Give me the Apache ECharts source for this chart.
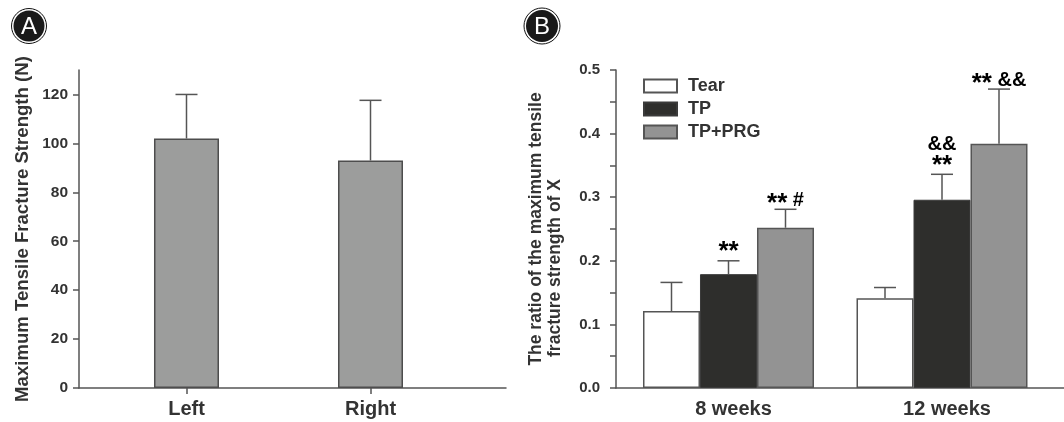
<!DOCTYPE html>
<html><head><meta charset="utf-8">
<script src="https://cdn.jsdelivr.net/npm/echarts@6/dist/echarts.min.js"></script>
<style>html,body{margin:0;padding:0;background:#fff}#c{width:1064px;height:422px}</style>
</head><body><div id="c"></div>
<script>
// ---------- Panel A data ----------
const categoriesA = ['Left', 'Right'];
const meanA = [102, 93];
const errA = [18, 24.6];
const yTicksA = [0, 20, 40, 60, 80, 100, 120];

// ---------- Panel B data ----------
const categoriesB = ['8 weeks', '12 weeks'];
const seriesNamesB = ['Tear', 'TP', 'TP+PRG'];
const tearMean = [0.121, 0.141];
const tearErr = [0.045, 0.017];
const tpMean = [0.179, 0.296];
const tpErr = [0.021, 0.040];
const prgMean = [0.252, 0.384];
const prgErr = [0.029, 0.086];
const tearMarks = ['', ''];
const tpMarks = ['**', '&&\n**'];
const prgMarks = ['** #', '** &&'];
const yLabelsB = [0, 0.1, 0.2, 0.3, 0.4, 0.5];
const yTicksB = [0, 0.05, 0.1, 0.15, 0.2, 0.25, 0.3, 0.35, 0.4, 0.45, 0.5];

// ---------- styles ----------
const FONT = '"Liberation Sans", Arial, Helvetica, sans-serif';
const TXT = '#333';
const AX = '#555';
const CAP = 22;
const BW_A = 65;
const BW_B = 57;

function toRich(s) {
  return s.split('\n').map(line => {
    const mixed = /\*/.test(line) && /[^*\s]/.test(line.replace(/\*/g, ''));
    return line.replace(/(\*+)|([^*]+)/g, (m, st, other) =>
      st ? '{s|' + st + '}' : '{' + (mixed ? 'm' : 'n') + '|' + other + '}');
  }).join('\n');
}
const markRich = {
  s: { fontFamily: FONT, fontWeight: 'bold', fontSize: 26, color: TXT, lineHeight: 21 },
  n: { fontFamily: FONT, fontWeight: 'bold', fontSize: 20, color: TXT, lineHeight: 21 },
  m: { fontFamily: FONT, fontWeight: 'bold', fontSize: 20, color: TXT, lineHeight: 21, padding: [0, 0, 7, 0] }
};

function errSeries(gi, means, errs, marks, offset) {
  return {
    type: 'custom', xAxisIndex: gi, yAxisIndex: gi, z: 5, silent: true,
    data: means.map((m, i) => [i + 1, m, errs[i]]),
    encode: { x: 0, y: 1 },
    renderItem: function (params, api) {
      const x = api.value(0), m = api.value(1), e = api.value(2);
      const mark = marks[params.dataIndex];
      const p0 = api.coord([x, m]);
      const p1 = api.coord([x, m + e]);
      const cx = p0[0] + offset;
      const ls = { stroke: AX, lineWidth: 1.5 };
      const children = [
        { type: 'line', shape: { x1: cx, y1: p0[1], x2: cx, y2: p1[1] }, style: ls },
        { type: 'line', shape: { x1: cx - CAP / 2, y1: p1[1], x2: cx + CAP / 2, y2: p1[1] }, style: ls }
      ];
      if (mark) {
        const mixed = /\*/.test(mark) && /[^*\s]/.test(mark.replace(/\*/g, '')) && mark.indexOf('\n') < 0;
        children.push({
          type: 'text', x: cx, y: p1[1] + (mixed ? 5.5 : 2),
          style: { text: toRich(mark), rich: markRich, align: 'center', verticalAlign: 'bottom' }
        });
      }
      return { type: 'group', children: children };
    }
  };
}

const tickLabelStyle = { fontFamily: FONT, fontWeight: 'bold', color: TXT };
const axisLineStyle = { color: AX, width: 1.5 };

const option = {
  animation: false,
  backgroundColor: '#fff',
  grid: [
    { left: 79, right: 558, top: 70, bottom: 34 },
    { left: 616, right: 0, top: 70, bottom: 34 }
  ],
  legend: {
    data: seriesNamesB, orient: 'vertical', left: 643, top: 77, padding: 0,
    itemWidth: 33, itemHeight: 13, itemGap: 5, icon: 'rect',
    textStyle: { fontFamily: FONT, fontWeight: 'bold', fontSize: 18, color: TXT, padding: [0, 0, 0, 6] },
    selectedMode: false
  },
  xAxis: [
    {
      type: 'value', gridIndex: 0, min: 0.4158, max: 2.7364,
      splitLine: { show: false },
      axisLine: { show: true, onZero: false, lineStyle: axisLineStyle },
      axisTick: { show: true, customValues: [1, 2], length: 6, lineStyle: axisLineStyle },
      axisLabel: Object.assign({ customValues: [1, 2], fontSize: 20, margin: 11,
        formatter: v => categoriesA[Math.round(v) - 1] || '' }, tickLabelStyle)
    },
    {
      type: 'value', gridIndex: 1, min: 0.4731, max: 2.5714,
      splitLine: { show: false },
      axisLine: { show: true, onZero: false, lineStyle: axisLineStyle },
      axisTick: { show: false },
      axisLabel: Object.assign({ customValues: [1, 2], fontSize: 20, margin: 11, padding: [0, 0, 0, 10],
        formatter: v => categoriesB[Math.round(v) - 1] || '' }, tickLabelStyle)
    }
  ],
  yAxis: [
    {
      type: 'value', gridIndex: 0, min: 0, max: 130,
      splitLine: { show: false },
      axisLine: { show: true, onZero: false, lineStyle: axisLineStyle },
      axisTick: { show: true, customValues: yTicksA, length: 6, lineStyle: axisLineStyle },
      axisLabel: Object.assign({ customValues: yTicksA, fontSize: 15.5, margin: 11 }, tickLabelStyle),
      name: 'Maximum Tensile Fracture Strength (N)', nameLocation: 'middle', nameGap: 47,
      nameTextStyle: { fontFamily: FONT, fontWeight: 'bold', fontSize: 18.6, color: TXT }
    },
    {
      type: 'value', gridIndex: 1, min: 0, max: 0.5,
      splitLine: { show: false },
      axisLine: { show: true, onZero: false, lineStyle: axisLineStyle },
      axisTick: { show: true, customValues: yTicksB, length: 6, lineStyle: axisLineStyle },
      axisLabel: Object.assign({ customValues: yLabelsB, fontSize: 15, margin: 16,
        formatter: v => v.toFixed(1) }, tickLabelStyle),
      name: '{a|The ratio of the maximum tensile}\n{b|fracture strength of X}',
      nameLocation: 'middle', nameGap: 51,
      nameTextStyle: {
        rich: {
          a: { fontFamily: FONT, fontWeight: 'bold', fontSize: 17.5, color: TXT, lineHeight: 19 },
          b: { fontFamily: FONT, fontWeight: 'bold', fontSize: 17.5, color: TXT, lineHeight: 19, padding: [0, 78, 0, 0] }
        }
      }
    }
  ],
  series: [
    {
      type: 'bar', name: 'Strength', xAxisIndex: 0, yAxisIndex: 0, barWidth: BW_A,
      data: meanA.map((m, i) => [i + 1, m]),
      itemStyle: { color: '#9c9d9c', borderColor: '#4d4d4d', borderWidth: 1.5 }
    },
    errSeries(0, meanA, errA, ['', ''], 0),
    {
      type: 'bar', name: seriesNamesB[0], xAxisIndex: 1, yAxisIndex: 1, barWidth: BW_B, barGap: '0%',
      data: tearMean.map((m, i) => [i + 1, m]),
      itemStyle: { color: '#ffffff', borderColor: '#555', borderWidth: 1.5 }
    },
    {
      type: 'bar', name: seriesNamesB[1], xAxisIndex: 1, yAxisIndex: 1, barWidth: BW_B, barGap: '0%',
      data: tpMean.map((m, i) => [i + 1, m]),
      itemStyle: { color: '#2e2e2c', borderColor: '#3a3a3a', borderWidth: 1 }
    },
    {
      type: 'bar', name: seriesNamesB[2], xAxisIndex: 1, yAxisIndex: 1, barWidth: BW_B, barGap: '0%',
      data: prgMean.map((m, i) => [i + 1, m]),
      itemStyle: { color: '#939393', borderColor: '#555', borderWidth: 1.5 }
    },
    errSeries(1, tearMean, tearErr, tearMarks, -BW_B),
    errSeries(1, tpMean, tpErr, tpMarks, 0),
    errSeries(1, prgMean, prgErr, prgMarks, BW_B)
  ],
  graphic: [
    { type: 'circle', shape: { cx: 29, cy: 26, r: 17.5 }, style: { fill: '#fff', stroke: '#111', lineWidth: 1 } },
    { type: 'circle', shape: { cx: 29, cy: 26, r: 15.5 }, style: { fill: '#1a1a1a' } },
    { type: 'text', x: 29, y: 27, style: { text: 'A', fill: '#fff', font: '24px ' + FONT, align: 'center', verticalAlign: 'middle' } },
    { type: 'circle', shape: { cx: 542, cy: 26, r: 18 }, style: { fill: '#fff', stroke: '#111', lineWidth: 1 } },
    { type: 'circle', shape: { cx: 542, cy: 26, r: 16 }, style: { fill: '#1a1a1a' } },
    { type: 'text', x: 542, y: 27, style: { text: 'B', fill: '#fff', font: '24px ' + FONT, align: 'center', verticalAlign: 'middle' } }
  ]
};

const chart = echarts.init(document.getElementById('c'), null, { renderer: 'canvas' });
chart.setOption(option);
</script>
</body></html>
